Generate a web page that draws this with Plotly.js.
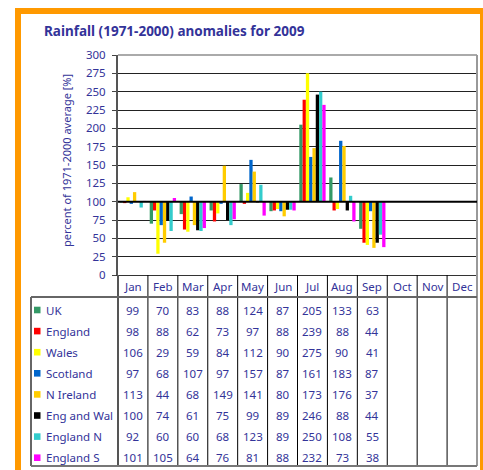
<!DOCTYPE html>
<html>
<head>
<meta charset="utf-8">
<script src="https://cdn.plot.ly/plotly-3.0.1.min.js"></script>
<style>
html,body{margin:0;padding:0;background:#fff;}
#chart{width:483px;height:470px;}
</style>
</head>
<body>
<div id="chart"></div>
<script>
// ---- data ----
const months = ['Jan','Feb','Mar','Apr','May','Jun','Jul','Aug','Sep','Oct','Nov','Dec'];
const seriesNames = ['UK','England','Wales','Scotland','N Ireland','Eng and Wal','England N','England S'];
const seriesColors = ['#339966','#FF0000','#FFFF00','#0066CC','#FFCC00','#000000','#33CCCC','#FF00FF'];
const uk        = [99, 70, 83, 88, 124, 87, 205, 133, 63];
const england   = [98, 88, 62, 73, 97, 88, 239, 88, 44];
const wales     = [106, 29, 59, 84, 112, 90, 275, 90, 41];
const scotland  = [97, 68, 107, 97, 157, 87, 161, 183, 87];
const nIreland  = [113, 44, 68, 149, 141, 80, 173, 176, 37];
const engAndWal = [100, 74, 61, 75, 99, 89, 246, 88, 44];
const englandN  = [92, 60, 60, 68, 123, 89, 250, 108, 55];
const englandS  = [101, 105, 64, 76, 81, 88, 232, 73, 38];
const baseline = 100;
const yTicks = [0,25,50,75,100,125,150,175,200,225,250,275,300];

const allSeries = [uk, england, wales, scotland, nIreland, engAndWal, englandN, englandS];

// ---- layout helpers (pixel -> paper) ----
const W = 483, H = 470;
const L = 118, R = 477, T = 55, B = 275;
const px = X => (X - L) / (R - L);
const py = Y => (B - Y) / (B - T);
const txtColor = '#333399';
const FONT = 'Noto Sans, DejaVu Sans, sans-serif';

const traces = allSeries.map((vals, i) => ({
  type: 'bar',
  name: seriesNames[i],
  x: months.slice(0, vals.length),
  y: vals.map(v => v - baseline),
  base: baseline,
  marker: {color: seriesColors[i], line: {width: 0}},
  showlegend: false,
  hoverinfo: 'skip'
}));

const shapes = [];
const annotations = [];

// orange frame
const orange = '#FF9900';
shapes.push({type:'rect', xref:'paper', yref:'paper', x0:px(15), x1:px(483), y0:py(8), y1:py(14), fillcolor:orange, line:{width:0}, layer:'above'});
shapes.push({type:'rect', xref:'paper', yref:'paper', x0:px(15), x1:px(21), y0:py(8), y1:py(470), fillcolor:orange, line:{width:0}, layer:'above'});
shapes.push({type:'rect', xref:'paper', yref:'paper', x0:px(480), x1:px(483), y0:py(8), y1:py(470), fillcolor:orange, line:{width:0}, layer:'above'});

// plot area border (top / right) grey
shapes.push({type:'line', xref:'paper', yref:'paper', x0:0, x1:1, y0:1, y1:1, line:{color:'#AAAAAA', width:2}, layer:'above'});
shapes.push({type:'line', xref:'paper', yref:'paper', x0:1, x1:1, y0:py(466), y1:1, line:{color:'#999999', width:2}, layer:'above'});

// baseline 100 line
shapes.push({type:'line', xref:'paper', yref:'y', x0:0, x1:1, y0:baseline, y1:baseline, line:{color:'#000000', width:2}, layer:'above'});

// table geometry
const headerBottom = 297;
const tableBottom = 466;
const tableLeft = 31;
const rowH = 21.1;
const firstRowCenter = 310;

// column separators
for (let k = 1; k < months.length; k++) {
  shapes.push({type:'line', xref:'paper', yref:'paper', x0:k/months.length, x1:k/months.length, y0:py(tableBottom), y1:0, line:{color:'#000000', width:1}});
}
// left column line at axis
shapes.push({type:'line', xref:'paper', yref:'paper', x0:0, x1:0, y0:py(tableBottom), y1:0, line:{color:'#555555', width:2}});
// header bottom line
shapes.push({type:'line', xref:'paper', yref:'paper', x0:px(tableLeft), x1:1, y0:py(headerBottom), y1:py(headerBottom), line:{color:'#666666', width:2}});
// left border
shapes.push({type:'line', xref:'paper', yref:'paper', x0:px(tableLeft), x1:px(tableLeft), y0:py(tableBottom), y1:py(headerBottom), line:{color:'#666666', width:2}});
// bottom border
shapes.push({type:'line', xref:'paper', yref:'paper', x0:px(tableLeft), x1:1, y0:py(tableBottom), y1:py(tableBottom), line:{color:'#777777', width:2}});

// header month labels
months.forEach((m, k) => {
  annotations.push({xref:'x', yref:'paper', x:m, y:py(286), text:m, showarrow:false, xanchor:'center', yanchor:'middle',
    font:{family:FONT, size:11.5, color:txtColor}});
});

// rows
allSeries.forEach((vals, i) => {
  const yc = firstRowCenter + i * rowH;
  // legend key
  shapes.push({type:'rect', xref:'paper', yref:'paper', x0:px(34), x1:px(40.5), y0:py(yc + 3.3), y1:py(yc - 3.3), fillcolor:seriesColors[i], line:{width:0}});
  annotations.push({xref:'paper', yref:'paper', x:px(44), y:py(yc), text:seriesNames[i], showarrow:false, xanchor:'left', yanchor:'middle',
    font:{family:FONT, size:11.5, color:txtColor}});
  vals.forEach((v, k) => {
    annotations.push({xref:'x', yref:'paper', x:months[k], y:py(yc), text:String(v), showarrow:false, xanchor:'center', yanchor:'middle',
      font:{family:FONT, size:11.5, color:txtColor}});
  });
});

// y-axis title
annotations.push({xref:'paper', yref:'paper', x:px(66), y:py(161), text:'percent of 1971-2000 average [%]', textangle:-90, showarrow:false,
  xanchor:'center', yanchor:'middle', font:{family:FONT, size:11, color:txtColor}});

const layout = {
  width: W, height: H,
  margin: {l: L, r: W - R, t: T, b: H - B, pad: 0},
  paper_bgcolor: '#FFFFFF',
  plot_bgcolor: '#FFFFFF',
  barmode: 'group',
  bargap: 0.12,
  bargroupgap: 0,
  title: {text: 'Rainfall (1971-2000) anomalies for 2009', x: 44 / W, xanchor: 'left', xref: 'container',
          y: 1 - 31 / H, yanchor: 'middle', yref: 'container',
          font: {family: FONT, size: 13.5, color: txtColor, weight: 'bold'}},
  xaxis: {type: 'category', categoryorder: 'array', categoryarray: months, range: [-0.5, months.length - 0.5],
          showgrid: false, showticklabels: false, ticks: '', showline: true, linecolor: '#333333', linewidth: 1, zeroline: false, fixedrange: true},
  yaxis: {range: [0, 300], tickvals: yTicks, ticks: 'outside', ticklen: 4, tickcolor: '#444444', tickwidth: 1,
          showline: true, linecolor: '#555555', linewidth: 2, showgrid: true, gridcolor: '#222222', gridwidth: 1,
          zeroline: false, ticklabelstandoff: 4,
          tickfont: {family: FONT, size: 11.5, color: txtColor}, fixedrange: true},
  shapes: shapes,
  annotations: annotations,
  showlegend: false
};

Plotly.newPlot('chart', traces, layout, {displayModeBar: false, staticPlot: true});
</script>
</body>
</html>
